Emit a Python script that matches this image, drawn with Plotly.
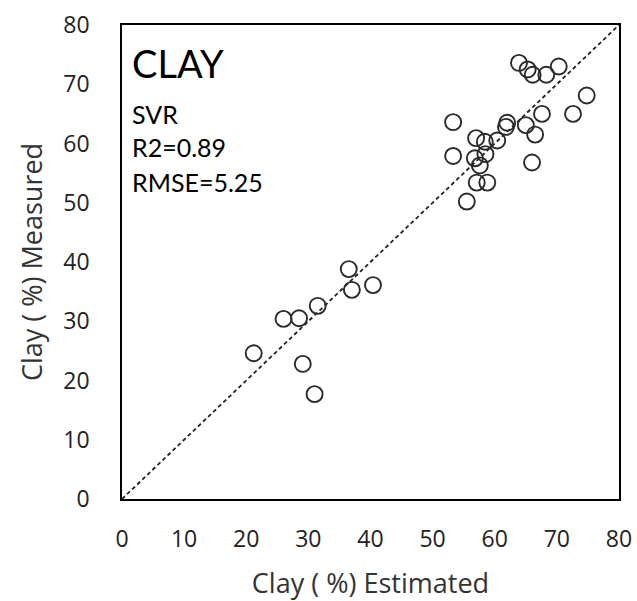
import plotly.graph_objects as go

estimated = [21.2, 26.0, 28.5, 31.5, 29.1, 31.0, 36.5, 37.0, 40.4,
             53.3, 53.3, 55.5, 56.8, 57.0, 57.1, 57.6, 58.5, 58.4, 58.8,
             60.4, 62.0, 61.8, 63.9, 65.0, 65.3, 66.1, 66.0, 66.5, 67.6,
             68.3, 70.3, 72.6, 74.8]
measured = [24.6, 30.4, 30.5, 32.6, 22.8, 17.7, 38.8, 35.3, 36.1,
            63.6, 57.9, 50.2, 57.5, 60.9, 53.4, 56.3, 58.2, 60.3, 53.4,
            60.5, 63.5, 62.8, 73.6, 63.1, 72.5, 71.6, 56.8, 61.5, 65.0,
            71.6, 73.0, 65.0, 68.1]
ticks = [0, 10, 20, 30, 40, 50, 60, 70, 80]

fig = go.Figure()
fig.add_trace(go.Scatter(x=[0, 80], y=[0, 80], mode="lines",
                         line=dict(color="#222222", width=1.8, dash="4px,3px"),
                         hoverinfo="skip", showlegend=False))
fig.add_trace(go.Scatter(x=estimated, y=measured, mode="markers",
                         marker=dict(size=16, color="rgba(255,255,255,0)",
                                     line=dict(color="#2a2a2a", width=1.9)),
                         showlegend=False))

font = "Open Sans"
axis_common = dict(range=[0, 80], tickvals=ticks, showgrid=False, zeroline=False,
                   showline=True, mirror=True, linecolor="black", linewidth=1.5,
                   ticks="", automargin=False, ticklabeloverflow="allow",
                   tickfont=dict(family=font, size=23, color="#222222"))
fig.update_xaxes(**axis_common, ticklabelstandoff=19,
                 title=dict(text="Clay ( %) Estimated", standoff=21,
                            font=dict(family=font, size=27, color="#333333")))
fig.update_yaxes(**axis_common, ticklabelstandoff=26,
                 title=dict(text="Clay ( %) Measured", standoff=13,
                            font=dict(family=font, size=27, color="#333333")))

tx = 0.016
fig.add_annotation(x=tx, y=0.92, xref="paper", yref="paper", xanchor="left", yanchor="middle",
                   text="CLAY", showarrow=False, font=dict(family="Lato", size=38, color="black"))
for txt, yy in [("SVR", 0.812), ("R2=0.89", 0.743), ("RMSE=5.25", 0.669)]:
    fig.add_annotation(x=tx, y=yy, xref="paper", yref="paper", xanchor="left", yanchor="middle",
                       text=txt, showarrow=False,
                       font=dict(family="Lato", size=25, color="black"))

fig.update_layout(width=637, height=601, margin=dict(l=122, r=18, t=25, b=102),
                  plot_bgcolor="white", paper_bgcolor="white")
fig.write_html("out.html", config={"displayModeBar": False},
               post_script="document.body.style.margin='0';")
